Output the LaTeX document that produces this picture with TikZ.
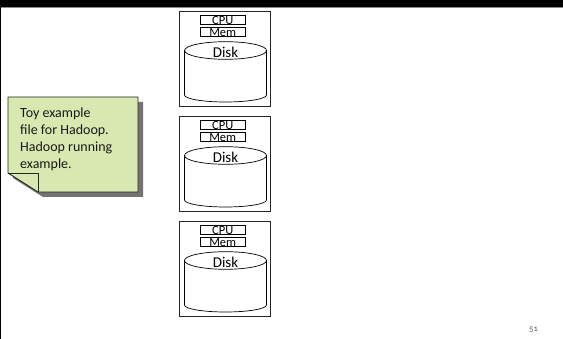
\documentclass[tikz,border=0pt]{standalone}
\usepackage{fontspec}
\setmainfont{Carlito}
\newfontfamily\pagefont[Numbers=OldStyle]{Carlito}
\usetikzlibrary{calc}
\definecolor{notegreen}{RGB}{216,232,176}
\tikzset{
	slideline/.style={line width=0.9pt, color=black!85},
	parttext/.style={inner sep=0pt, font=\fontsize{12.5}{13}\selectfont},
	notetext/.style={inner sep=0pt, color=black!90, align=left, anchor=north west, font=\fontsize{14}{16.9}\selectfont}
}
\def\serverbox(#1,#2){
	\draw[slideline] (#1, #2) rectangle ($(#1, #2)+(91, 95)$);
	\draw[line width=0.7pt] ($(#1, #2)+(21.5, 4)$) rectangle ($(#1, #2)+(66, 13)$);
	\node[parttext] at ($(#1, #2)+(43.7, 9.5)$) {CPU};
	\draw[line width=0.7pt] ($(#1, #2)+(21.5, 16.5)$) rectangle ($(#1, #2)+(66, 25)$);
	\node[parttext] at ($(#1, #2)+(43.7, 22)$) {Mem};
	\draw[line width=0.7pt, fill=white] ($(#1, #2)+(5.5, 39.5)$) -- ($(#1, #2)+(5.5, 84)$) arc (180:0:41 and 7) -- ($(#1, #2)+(87.5, 39.5)$);
	\draw[line width=0.7pt, fill=white] ($(#1, #2)+(46.5, 39.5)$) ellipse (41 and 8.8);
	\node[inner sep=0pt, font=\fontsize{15}{15}\selectfont] at ($(#1, #2)+(46.5, 41)$) {Disk};
}

\begin{document}
\begin{tikzpicture}[x=1pt, y=-1pt]
	%%%%% START %%%%%
	\useasboundingbox (0, 0) rectangle (563, 339);

	\fill[black] (0, 0) rectangle (563, 7);
	\fill[black!45] (0, 7) rectangle (563, 8.2);
	\fill[black] (0, 7) rectangle (1, 339);

	\serverbox(179, 11)
	\serverbox(179, 116)
	\serverbox(179, 221)

	\fill[black!55] (13, 102) -- (143, 102) -- (143, 197) -- (43, 197) -- (13, 178) -- cycle;
	\draw[slideline, fill=notegreen] (8, 97) -- (138, 97) -- (138, 192) -- (38, 192) -- (8, 173) -- cycle;
	\draw[slideline] (8, 173) -- (38, 173) -- (38, 192);
	\node[notetext] (note) at (20, 108) {Toy example\\file for Hadoop.\\Hadoop running\\example.};

	\node[inner sep=0pt, color=black!65, font=\pagefont\fontsize{8.5}{9}\selectfont] (pagenum) at (533.5, 329.5) {51};
	%%%%% END %%%%%
\end{tikzpicture}
\end{document}
